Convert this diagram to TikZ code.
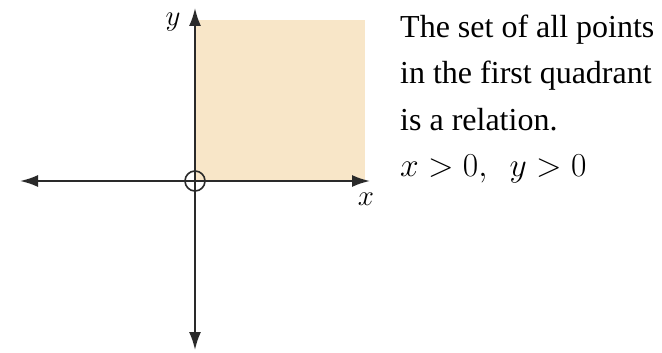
\RequirePackage{fix-cm}
\documentclass[tikz,border=0pt]{standalone}
\usepackage{fontspec}
\setmainfont{Liberation Serif}
\usetikzlibrary{arrows.meta}
\definecolor{quadfill}{HTML}{F8E6C8}
\definecolor{axisgray}{HTML}{2A2A2A}

\begin{document}
\begin{tikzpicture}[x=1pt,y=-1pt]
		\useasboundingbox (0,0) rectangle (662,353);
		\tikzset{axis/.style={draw=axisgray, line width=2pt, -{Latex[length=18pt,width=12pt]}},
			txt/.style={anchor=base west, inner sep=0pt, font=\fontsize{32}{36}\selectfont}}
		\coordinate (o) at (195,181);
		\coordinate (xl) at (20,181);
		\coordinate (xr) at (370,181);
		\coordinate (yt) at (195,8);
		\coordinate (yb) at (195,350);
		\fill[quadfill] (o) rectangle (365,20);
		\draw[axis] (o) -- (xl);
		\draw[axis] (o) -- (xr);
		\draw[axis] (o) -- (yt);
		\draw[axis] (o) -- (yb);
		\draw[color=axisgray, line width=1.6pt] (o) circle(10);
		\node[inner sep=0pt, font=\fontsize{29}{36}\selectfont] (ylab) at (173,22) {$y$};
		\node[inner sep=0pt, font=\fontsize{29}{36}\selectfont] (xlab) at (366,199) {$x$};
		\node[txt] (t1) at (400,38) {The set of all points};
		\node[txt] (t2) at (400,84) {in the first quadrant};
		\node[txt] (t3) at (400,130) {is a relation.};
		\node[txt, font=\fontsize{33.5}{36}\selectfont] (t4) at (400,176) {$x>0,\ \ y>0$};
	\end{tikzpicture}
\end{document}
